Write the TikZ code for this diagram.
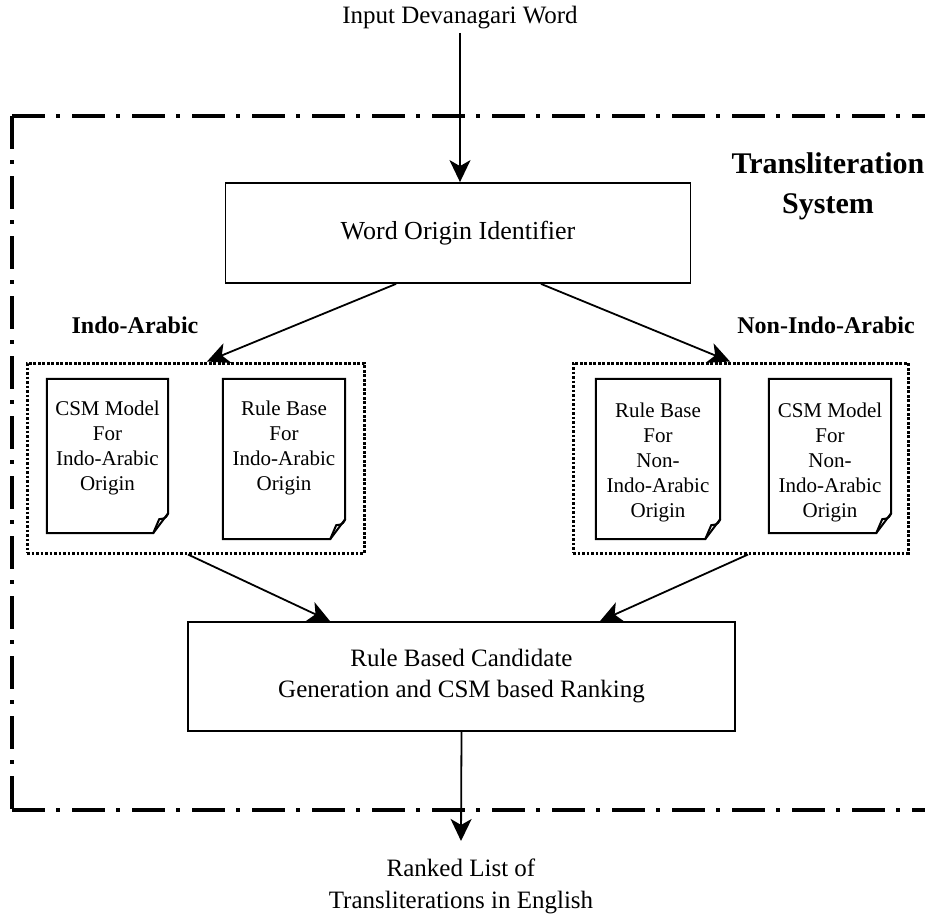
\documentclass[tikz,border=0pt]{standalone}
\usepackage{fontspec}
\setmainfont{Liberation Serif}
\usetikzlibrary{arrows.meta}
\newcommand\docfold[1]{%
  \draw[docline] (#1.north west) -- (#1.north east) -- ([yshift=20pt]#1.south east) -- ([xshift=-15pt]#1.south east) -- (#1.south west) -- cycle;
  \draw[docline] ([yshift=20pt]#1.south east) .. controls ([xshift=-3pt,yshift=13pt]#1.south east) and ([xshift=-6pt,yshift=15pt]#1.south east) .. ([xshift=-9pt,yshift=14pt]#1.south east) -- ([xshift=-15pt]#1.south east);}
\tikzset{
  x=1pt, y=-1pt,
  mainfont/.style={font=\fontsize{25}{31}\selectfont, align=center},
  boldlab/.style={font=\fontsize{24}{30}\selectfont\bfseries, align=center},
  box/.style={draw, line width=1.8pt, rectangle, inner sep=0pt},
  group/.style={draw, line width=3pt, dash pattern=on 2.6pt off 1.9pt, rectangle, inner sep=0pt},
  docnode/.style={rectangle, inner sep=0pt},
  docline/.style={line width=2pt, line join=miter},
  doctext/.style={font=\fontsize{21}{25}\selectfont, align=center},
  arr/.style={line width=1.8pt, -{Stealth[length=22pt,width=21pt,inset=6pt]}},
  frame/.style={line width=4pt, dash pattern=on 33pt off 11pt on 4pt off 12pt},
}
\begin{document}
\begin{tikzpicture}
\useasboundingbox (0,0) rectangle (925,913);
% outer frame
\draw[frame] (12,116) -- (940,116);
\draw[frame] (12,116) -- (12,810);
\draw[frame] (12,810) -- (940,810);

\node[mainfont] (in) at (460,18) {Input Devanagari Word};
\node[box, minimum width=465pt, minimum height=100pt, font=\fontsize{26}{31}\selectfont] (woi) at (458,233) {Word Origin Identifier};
\node[font=\fontsize{30}{40}\selectfont\bfseries, align=center] (ts) at (828,186) {Transliteration\\System};
\node[boldlab] (ia) at (135,325) {Indo-Arabic};
\node[boldlab] (nia) at (826,325) {Non-Indo-Arabic};

\node[group, minimum width=337pt, minimum height=190pt] (gL) at (195.5,458) {};
\node[group, minimum width=335pt, minimum height=190pt] (gR) at (740.5,458) {};

\node[docnode, minimum width=121pt, minimum height=154pt] (d1) at (107.5,456) {};
\node[docnode, minimum width=122pt, minimum height=160pt] (d2) at (284,459) {};
\node[docnode, minimum width=124pt, minimum height=160pt] (d3) at (658,459) {};
\node[docnode, minimum width=122pt, minimum height=154pt] (d4) at (830,456) {};
\docfold{d1}\docfold{d2}\docfold{d3}\docfold{d4}
\node[doctext] (t1) at (107.5,448) {CSM Model\\For\\Indo-Arabic\\Origin};
\node[doctext] (t2) at (284,448) {Rule Base\\For\\Indo-Arabic\\Origin};
\node[doctext] (t3) at (658,462) {Rule Base\\For\\Non-\\Indo-Arabic\\Origin};
\node[doctext] (t4) at (830,462) {CSM Model\\For\\Non-\\Indo-Arabic\\Origin};

\node[box, minimum width=547pt, minimum height=109pt, mainfont] (cand) at (461.5,676.5) {Rule Based Candidate\\Generation and CSM based Ranking};
\node[mainfont, font=\fontsize{25}{32}\selectfont] (out) at (461,886) {Ranked List of\\Transliterations in English};

\draw[arr] (in.south) -- (in.south |- woi.north);
\draw[arr] ([xshift=-62pt]woi.south) -- ([xshift=11.5pt]gL.north);
\draw[arr] ([xshift=83pt]woi.south) -- ([xshift=-10.5pt]gR.north);
\draw[arr] ([xshift=-7.5pt]gL.south) -- ([xshift=-131.5pt]cand.north);
\draw[arr] ([xshift=7.5pt]gR.south) -- ([xshift=138.5pt]cand.north);
\draw[arr] (cand.south) -- ([yshift=14pt]out.north);
\end{tikzpicture}
\end{document}
